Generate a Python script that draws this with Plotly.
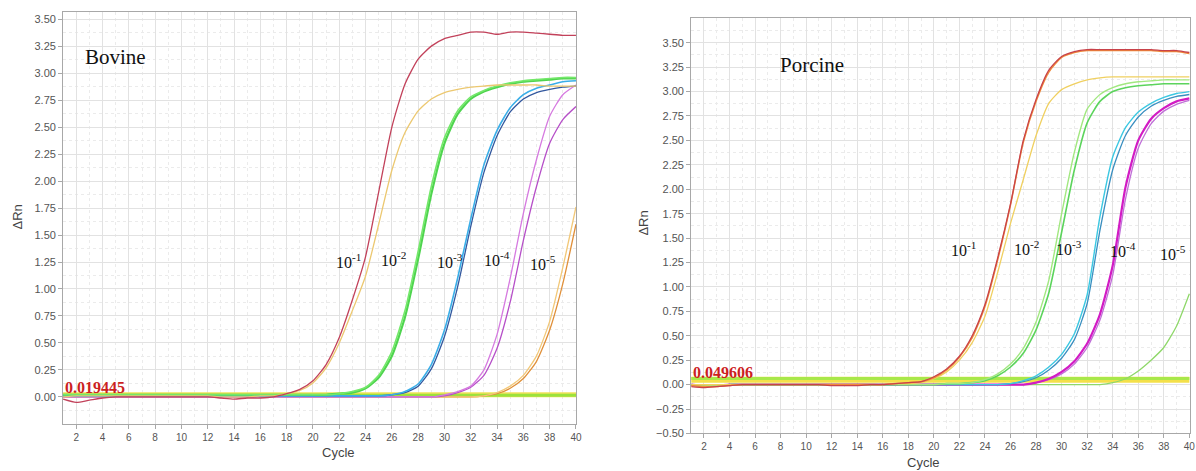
import plotly.graph_objects as go

cycles = list(range(1, 41))

# ---------------- Bovine (left panel) ----------------
bov_red = [-0.02, -0.05, -0.03, -0.01, 0.00, 0.00, 0.00, 0.00, 0.00, 0.00,
           0.00, 0.00, -0.01, -0.02, -0.01, -0.01, 0.00, 0.03, 0.07, 0.15,
           0.30, 0.55, 0.90, 1.30, 1.90, 2.50, 2.90, 3.13, 3.25, 3.32,
           3.35, 3.38, 3.38, 3.36, 3.38, 3.38, 3.37, 3.36, 3.35, 3.35]
bov_yel = [0.00, 0.01, 0.01, 0.01, 0.01, 0.01, 0.01, 0.01, 0.01, 0.01,
           0.01, 0.01, 0.00, 0.00, 0.00, 0.01, 0.01, 0.03, 0.06, 0.13,
           0.27, 0.50, 0.80, 1.12, 1.60, 2.10, 2.45, 2.65, 2.76, 2.82,
           2.85, 2.87, 2.88, 2.89, 2.89, 2.89, 2.89, 2.88, 2.88, 2.88]
bov_grn1 = [0.02, 0.02, 0.02, 0.02, 0.02, 0.02, 0.02, 0.02, 0.02, 0.02,
            0.02, 0.02, 0.02, 0.02, 0.02, 0.02, 0.02, 0.02, 0.02, 0.02,
            0.02, 0.03, 0.05, 0.09, 0.20, 0.42, 0.80, 1.35, 1.95, 2.40,
            2.65, 2.78, 2.84, 2.88, 2.91, 2.93, 2.94, 2.95, 2.96, 2.96]
bov_grn2 = [0.02, 0.02, 0.02, 0.02, 0.02, 0.02, 0.02, 0.02, 0.02, 0.02,
            0.02, 0.02, 0.02, 0.02, 0.02, 0.02, 0.02, 0.02, 0.02, 0.02,
            0.02, 0.03, 0.04, 0.08, 0.18, 0.38, 0.74, 1.28, 1.88, 2.35,
            2.62, 2.76, 2.83, 2.87, 2.90, 2.92, 2.93, 2.94, 2.95, 2.95]
bov_blu1 = [0.01, 0.01, 0.01, 0.01, 0.01, 0.01, 0.01, 0.01, 0.01, 0.01,
            0.01, 0.01, 0.01, 0.01, 0.01, 0.01, 0.01, 0.01, 0.01, 0.01,
            0.01, 0.01, 0.01, 0.01, 0.01, 0.02, 0.05, 0.12, 0.30, 0.62,
            1.10, 1.65, 2.15, 2.47, 2.68, 2.80, 2.86, 2.89, 2.92, 2.93]
bov_blu2 = [0.01, 0.01, 0.01, 0.01, 0.01, 0.01, 0.01, 0.01, 0.01, 0.01,
            0.01, 0.01, 0.01, 0.01, 0.01, 0.01, 0.01, 0.01, 0.01, 0.01,
            0.01, 0.01, 0.01, 0.01, 0.01, 0.02, 0.04, 0.10, 0.26, 0.56,
            1.02, 1.58, 2.08, 2.42, 2.64, 2.76, 2.82, 2.85, 2.87, 2.88]
bov_pur1 = [0.00, 0.00, 0.00, 0.00, 0.00, 0.00, 0.00, 0.00, 0.00, 0.00,
            0.00, 0.00, 0.00, 0.00, 0.00, 0.00, 0.00, 0.00, 0.00, 0.00,
            0.00, 0.00, 0.00, 0.00, 0.00, 0.00, 0.00, 0.00, 0.00, 0.02,
            0.05, 0.10, 0.25, 0.58, 1.10, 1.70, 2.20, 2.60, 2.80, 2.89]
bov_pur2 = [0.00, 0.00, 0.00, 0.00, 0.00, 0.00, 0.00, 0.00, 0.00, 0.00,
            0.00, 0.00, 0.00, 0.00, 0.00, 0.00, 0.00, 0.00, 0.00, 0.00,
            0.00, 0.00, 0.00, 0.00, 0.00, 0.00, 0.00, 0.00, 0.00, 0.01,
            0.04, 0.09, 0.20, 0.45, 0.88, 1.45, 1.95, 2.35, 2.57, 2.69]
bov_org1 = [0.00, 0.00, 0.00, 0.00, 0.00, 0.00, 0.00, 0.00, 0.00, 0.00,
            0.00, 0.00, 0.00, 0.00, 0.00, 0.00, 0.00, 0.00, 0.00, 0.00,
            0.00, 0.00, 0.00, 0.00, 0.00, 0.00, 0.00, 0.00, 0.00, 0.00,
            0.00, 0.00, 0.01, 0.04, 0.10, 0.20, 0.38, 0.70, 1.20, 1.76]
bov_org2 = [0.00, 0.00, 0.00, 0.00, 0.00, 0.00, 0.00, 0.00, 0.00, 0.00,
            0.00, 0.00, 0.00, 0.00, 0.00, 0.00, 0.00, 0.00, 0.00, 0.00,
            0.00, 0.00, 0.00, 0.00, 0.00, 0.00, 0.00, 0.00, 0.00, 0.00,
            0.00, 0.00, 0.01, 0.03, 0.08, 0.17, 0.33, 0.62, 1.05, 1.60]
bov_threshold = 0.019445

# ---------------- Porcine (right panel) ----------------
por_red = [-0.02, -0.03, -0.02, -0.01, 0.00, 0.00, 0.00, 0.00, 0.00, 0.00,
           0.00, -0.01, -0.01, -0.01, 0.00, 0.00, 0.01, 0.02, 0.03, 0.08,
           0.16, 0.29, 0.50, 0.82, 1.30, 1.85, 2.50, 2.92, 3.22, 3.36,
           3.41, 3.43, 3.43, 3.43, 3.43, 3.43, 3.43, 3.42, 3.42, 3.40]
por_org = [-0.01, -0.02, -0.02, -0.01, 0.00, 0.00, 0.00, 0.00, 0.00, 0.00,
           0.00, 0.00, 0.00, 0.00, 0.00, 0.00, 0.01, 0.02, 0.03, 0.07,
           0.15, 0.28, 0.48, 0.80, 1.28, 1.84, 2.48, 2.90, 3.20, 3.35,
           3.40, 3.42, 3.42, 3.42, 3.42, 3.42, 3.42, 3.41, 3.41, 3.39]
por_yel = [0.00, 0.00, 0.00, 0.00, 0.00, 0.00, 0.00, 0.00, 0.00, 0.00,
           0.00, 0.00, 0.00, 0.00, 0.00, 0.00, 0.01, 0.01, 0.02, 0.06,
           0.13, 0.25, 0.43, 0.70, 1.15, 1.65, 2.10, 2.55, 2.88, 3.02,
           3.08, 3.12, 3.14, 3.15, 3.15, 3.15, 3.15, 3.15, 3.15, 3.15]
por_grn1 = [0.00, -0.01, -0.01, 0.00, 0.00, 0.00, 0.00, 0.00, 0.00, 0.00,
            0.00, 0.00, 0.00, 0.00, 0.00, 0.00, 0.00, 0.00, 0.00, 0.00,
            0.01, 0.01, 0.02, 0.05, 0.11, 0.21, 0.37, 0.64, 1.07, 1.75,
            2.38, 2.82, 2.97, 3.04, 3.08, 3.10, 3.11, 3.12, 3.12, 3.12]
por_grn2 = [0.00, -0.01, -0.01, 0.00, 0.00, 0.00, 0.00, 0.00, 0.00, 0.00,
            0.00, 0.00, 0.00, 0.00, 0.00, 0.00, 0.00, 0.00, 0.00, 0.00,
            0.01, 0.01, 0.02, 0.04, 0.09, 0.18, 0.32, 0.56, 0.94, 1.56,
            2.20, 2.68, 2.90, 3.00, 3.04, 3.06, 3.07, 3.08, 3.08, 3.08]
por_cyn = [0.00, -0.01, -0.01, 0.00, 0.00, 0.00, 0.00, 0.00, 0.00, 0.00,
           0.00, 0.00, 0.00, 0.00, 0.00, 0.00, 0.00, 0.00, 0.00, 0.00,
           0.00, 0.00, 0.00, 0.00, 0.00, 0.01, 0.04, 0.09, 0.18, 0.31,
           0.52, 0.92, 1.72, 2.33, 2.63, 2.79, 2.88, 2.94, 2.98, 3.00]
por_teal = [0.00, -0.01, -0.01, 0.00, 0.00, 0.00, 0.00, 0.00, 0.00, 0.00,
            0.00, 0.00, 0.00, 0.00, 0.00, 0.00, 0.00, 0.00, 0.00, 0.00,
            0.00, 0.00, 0.00, 0.00, 0.00, 0.01, 0.03, 0.07, 0.15, 0.27,
            0.46, 0.83, 1.58, 2.20, 2.55, 2.74, 2.85, 2.91, 2.95, 2.97]
por_mag = [0.00, -0.01, -0.01, 0.00, 0.00, 0.00, 0.00, 0.00, 0.00, 0.00,
           0.00, 0.00, 0.00, 0.00, 0.00, 0.00, 0.00, 0.00, 0.00, 0.00,
           0.00, 0.00, 0.00, 0.00, 0.00, 0.00, 0.00, 0.02, 0.06, 0.13,
           0.24, 0.42, 0.72, 1.22, 2.02, 2.50, 2.72, 2.83, 2.90, 2.93]
por_pur = [0.00, -0.01, -0.01, 0.00, 0.00, 0.00, 0.00, 0.00, 0.00, 0.00,
           0.00, 0.00, 0.00, 0.00, 0.00, 0.00, 0.00, 0.00, 0.00, 0.00,
           0.00, 0.00, 0.00, 0.00, 0.00, 0.00, 0.00, 0.02, 0.05, 0.11,
           0.21, 0.38, 0.66, 1.12, 1.90, 2.42, 2.67, 2.80, 2.87, 2.91]
por_grn5 = [0.00, -0.01, -0.01, 0.00, 0.00, 0.00, 0.00, 0.00, 0.00, 0.00,
            0.00, 0.00, 0.00, 0.00, 0.00, 0.00, 0.00, 0.00, 0.00, 0.00,
            0.00, 0.00, 0.00, 0.00, 0.00, 0.00, 0.00, 0.00, 0.00, 0.00,
            0.00, 0.00, 0.00, 0.02, 0.06, 0.14, 0.25, 0.38, 0.60, 0.93]
por_threshold = 0.049606

dilution_labels = ["10<sup>-1</sup>", "10<sup>-2</sup>", "10<sup>-3</sup>",
                   "10<sup>-4</sup>", "10<sup>-5</sup>"]
bov_label_x = [22.7, 26.1, 30.45, 34.0, 37.5]
bov_label_y = [1.26, 1.28, 1.26, 1.28, 1.24]
por_label_x = [22.3, 27.25, 30.6, 34.8, 38.7]
por_label_y = [1.39, 1.40, 1.40, 1.38, 1.35]

x_ticks = list(range(2, 41, 2))
bov_y_ticks = [0.0, 0.25, 0.5, 0.75, 1.0, 1.25, 1.5, 1.75, 2.0, 2.25,
               2.5, 2.75, 3.0, 3.25, 3.5]
por_y_ticks = [-0.5, -0.25, 0.0, 0.25, 0.5, 0.75, 1.0, 1.25, 1.5, 1.75, 2.0,
               2.25, 2.5, 2.75, 3.0, 3.25, 3.5]

# effective rendered size used for placement in paper fractions
W_EFF = 1188.0
H_EFF = 464.0


def px_x(px):
    return px / W_EFF


def px_y(py):
    return 1 - py / H_EFF


fig = go.Figure()


def add_line(y, color, width, xa, ya):
    fig.add_trace(go.Scatter(x=cycles, y=y, mode="lines",
                             line=dict(color=color, width=width, shape="spline", smoothing=0.6),
                             xaxis=xa, yaxis=ya, showlegend=False, hoverinfo="skip"))


# threshold bands (drawn first)
add_line([bov_threshold] * 40, "#f2e25a", 5, "x", "y")
add_line([bov_threshold - 0.005] * 40, "#9be23c", 3, "x", "y")
add_line([por_threshold] * 40, "#f4e04a", 6, "x2", "y2")
add_line([por_threshold + 0.012] * 40, "#a8e84a", 3, "x2", "y2")

# Bovine curves
add_line(bov_org2, "#e0903a", 1.3, "x", "y")
add_line(bov_org1, "#f2c878", 1.3, "x", "y")
add_line(bov_pur2, "#b64fc8", 1.3, "x", "y")
add_line(bov_pur1, "#d67ae0", 1.3, "x", "y")
add_line(bov_blu2, "#33589e", 1.3, "x", "y")
add_line(bov_blu1, "#3aaee8", 1.6, "x", "y")
add_line(bov_grn2, "#4fd44f", 2.2, "x", "y")
add_line(bov_grn1, "#74e86a", 1.6, "x", "y")
add_line(bov_yel, "#ecc870", 1.3, "x", "y")
add_line(bov_red, "#c2415a", 1.3, "x", "y")

# Porcine curves
add_line(por_grn5, "#8fd86a", 1.3, "x2", "y2")
add_line(por_pur, "#c070d8", 1.3, "x2", "y2")
add_line(por_mag, "#d21cc4", 2.2, "x2", "y2")
add_line(por_teal, "#3a8fc0", 1.3, "x2", "y2")
add_line(por_cyn, "#3cc8e2", 1.4, "x2", "y2")
add_line(por_grn2, "#5cd45c", 1.6, "x2", "y2")
add_line(por_grn1, "#a2e880", 1.4, "x2", "y2")
add_line(por_yel, "#f0d060", 1.3, "x2", "y2")
add_line(por_org, "#f08a3a", 1.5, "x2", "y2")
add_line(por_red, "#c8424a", 1.3, "x2", "y2")

x_tick_font = dict(family="Liberation Sans, Arial", size=10, color="#555555")
y_tick_font = dict(family="Liberation Sans, Arial", size=11, color="#555555")
axis_common = dict(showline=True, linecolor="#a8a8a8", linewidth=1, mirror=True,
                   ticks="outside", ticklen=4, tickcolor="#a8a8a8",
                   showgrid=True, gridcolor="#e2e2e2", gridwidth=1,
                   zeroline=False)

minor_x = dict(dtick=1, showgrid=True, gridcolor="#ebebeb", griddash="dot", ticks="")
minor_y = dict(dtick=0.125, showgrid=True, gridcolor="#ebebeb", griddash="dot", ticks="")

fig.update_layout(
    width=1196, height=471,
    margin=dict(l=0, r=0, t=0, b=0),
    paper_bgcolor="white", plot_bgcolor="white",
    xaxis=dict(domain=[px_x(63), px_x(575)], range=[1, 40], tickvals=x_ticks,
               anchor="y", minor=minor_x, tickfont=x_tick_font, **axis_common),
    yaxis=dict(domain=[px_y(423), px_y(12)], range=[-0.25, 3.566],
               tickvals=bov_y_ticks, tickformat=".2f", anchor="x", minor=minor_y,
               tickfont=y_tick_font, **axis_common),
    xaxis2=dict(domain=[px_x(690), 1.0], range=[1, 40.05], tickvals=x_ticks,
                anchor="y2", minor=minor_x, tickfont=x_tick_font, **axis_common),
    yaxis2=dict(domain=[px_y(432.5), px_y(17.7)], range=[-0.5, 3.756],
                tickvals=por_y_ticks, tickformat=".2f", anchor="x2", minor=minor_y,
                tickfont=y_tick_font, **axis_common),
)

annotations = []
label_font = dict(family="Liberation Serif, Times New Roman", size=16, color="#111111")
for txt, lx, ly in zip(dilution_labels, bov_label_x, bov_label_y):
    annotations.append(dict(x=lx, y=ly, xref="x", yref="y", text=txt, showarrow=False,
                            font=label_font))
for txt, lx, ly in zip(dilution_labels, por_label_x, por_label_y):
    annotations.append(dict(x=lx, y=ly, xref="x2", yref="y2", text=txt, showarrow=False,
                            font=label_font))

title_font = dict(family="Liberation Sans, Arial", size=13, color="#444444")
annotations += [
    dict(x=2.52, y=3.15, xref="x", yref="y", text="Bovine", showarrow=False, xanchor="left",
         font=dict(family="Liberation Serif, Times New Roman", size=21, color="#111111")),
    dict(x=7.83, y=3.27, xref="x2", yref="y2", text="Porcine", showarrow=False, xanchor="left",
         font=dict(family="Liberation Serif, Times New Roman", size=21, color="#111111")),
    dict(x=1.0, y=0.085, xref="x", yref="y", text="<b>0.019445</b>", showarrow=False,
         xanchor="left", yanchor="middle",
         font=dict(family="Liberation Serif, Times New Roman", size=16, color="#cc1f1f")),
    dict(x=1.0, y=0.125, xref="x2", yref="y2", text="<b>0.049606</b>", showarrow=False,
         xanchor="left", yanchor="middle",
         font=dict(family="Liberation Serif, Times New Roman", size=16, color="#cc1f1f")),
    dict(x=px_x(319), y=px_y(452), xref="paper", yref="paper", text="Cycle",
         showarrow=False, yanchor="middle", font=title_font),
    dict(x=px_x(940), y=px_y(462), xref="paper", yref="paper", text="Cycle",
         showarrow=False, yanchor="middle", font=title_font),
    dict(x=px_x(17), y=px_y(217), xref="paper", yref="paper", text="ΔRn",
         textangle=-90, showarrow=False, xanchor="center", yanchor="middle", font=title_font),
    dict(x=px_x(642), y=px_y(223), xref="paper", yref="paper", text="ΔRn",
         textangle=-90, showarrow=False, xanchor="center", yanchor="middle", font=title_font),
]
fig.update_layout(annotations=annotations)

fig.write_html("out.html")
